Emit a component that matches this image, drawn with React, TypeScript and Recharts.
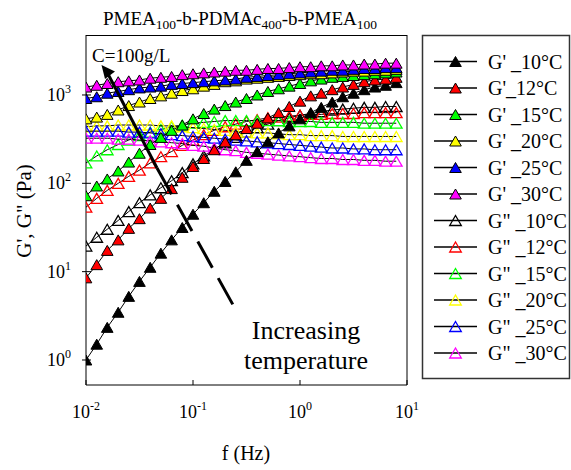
import React from "react";
import { ScatterChart, Scatter, XAxis, YAxis } from "recharts";

// Frequencies (Hz)
const FREQ = [0.01, 0.0126, 0.0158, 0.02, 0.0251, 0.0316, 0.0398, 0.0501, 0.0631, 0.0794, 0.1, 0.126, 0.158, 0.2, 0.251, 0.316, 0.398, 0.501, 0.631, 0.794, 1, 1.26, 1.58, 2, 2.51, 3.16, 3.98, 5.01, 6.31, 7.94];

// G' (Pa)
const GP_10 = [1.0, 1.51, 2.34, 3.47, 5.25, 7.76, 11.2, 16.2, 22.9, 31.6, 44.7, 60.3, 81.3, 105, 135, 182, 229, 295, 372, 447, 537, 631, 724, 832, 955, 1047, 1148, 1230, 1288, 1380];
const GP_12 = [8.51, 12.0, 17.4, 22.9, 30.9, 39.8, 52.5, 67.6, 87.1, 117, 155, 191, 240, 295, 355, 417, 479, 550, 631, 741, 851, 977, 1047, 1148, 1230, 1318, 1413, 1479, 1514, 1585];
const GP_15 = [72.4, 93.3, 112, 138, 174, 219, 275, 331, 398, 457, 537, 617, 692, 759, 832, 912, 1000, 1096, 1175, 1259, 1349, 1445, 1514, 1585, 1622, 1660, 1698, 1738, 1778, 1820];
const GP_20 = [537, 562, 603, 676, 759, 832, 912, 977, 1047, 1122, 1175, 1259, 1318, 1413, 1445, 1514, 1549, 1585, 1622, 1660, 1698, 1738, 1738, 1778, 1820, 1862, 1862, 1905, 1905, 1950];
const GP_25 = [912, 955, 1047, 1096, 1148, 1202, 1230, 1259, 1318, 1349, 1380, 1413, 1445, 1479, 1514, 1585, 1622, 1660, 1698, 1738, 1778, 1820, 1862, 1905, 1905, 1950, 1995, 1995, 2042, 2042];
const GP_30 = [1230, 1288, 1349, 1413, 1445, 1479, 1549, 1585, 1622, 1698, 1738, 1778, 1820, 1862, 1905, 1905, 1950, 1995, 1995, 2042, 2089, 2089, 2138, 2138, 2188, 2188, 2239, 2239, 2291, 2291];

// G'' (Pa)
const GPP_10 = [19.5, 24.5, 30.2, 38.0, 47.9, 60.3, 74.1, 89.1, 107, 132, 166, 204, 245, 288, 331, 380, 427, 468, 513, 550, 589, 617, 646, 676, 692, 708, 724, 724, 741, 741];
const GPP_12 = [53.7, 67.6, 83.2, 100, 120, 141, 170, 200, 229, 269, 309, 355, 398, 437, 468, 501, 525, 550, 562, 575, 589, 603, 603, 617, 617, 617, 631, 631, 631, 631];
const GPP_15 = [170, 204, 240, 275, 309, 347, 380, 407, 437, 457, 479, 490, 501, 513, 513, 513, 513, 513, 513, 501, 501, 501, 490, 490, 490, 490, 479, 479, 479, 479];
const GPP_20 = [437, 447, 447, 457, 457, 457, 457, 447, 447, 437, 427, 417, 407, 398, 389, 380, 372, 372, 363, 355, 355, 347, 347, 347, 339, 339, 339, 339, 339, 339];
const GPP_25 = [389, 389, 389, 389, 380, 380, 372, 363, 355, 347, 339, 331, 324, 316, 309, 302, 295, 288, 282, 275, 269, 263, 257, 251, 251, 245, 245, 240, 240, 240];
const GPP_30 = [324, 324, 324, 316, 316, 309, 302, 295, 288, 282, 269, 263, 251, 240, 234, 224, 219, 214, 209, 204, 200, 195, 191, 191, 186, 186, 182, 182, 178, 178];

const X_TICKS = [0.01, 0.1, 1, 10];
const Y_TICKS = [1, 10, 100, 1000];
const X_EXP = ["-2", "-1", "0", "1"];
const Y_EXP = ["0", "1", "2", "3"];

const SERIES = [
  { name: "G\" _10°C", values: GPP_10, color: "#000000", filled: false },
  { name: "G\" _12°C", values: GPP_12, color: "#FF0000", filled: false },
  { name: "G\" _15°C", values: GPP_15, color: "#00FF00", filled: false },
  { name: "G\" _20°C", values: GPP_20, color: "#FFFF00", filled: false },
  { name: "G\" _25°C", values: GPP_25, color: "#0000FF", filled: false },
  { name: "G\" _30°C", values: GPP_30, color: "#FF00FF", filled: false },
  { name: "G' _10°C", values: GP_10, color: "#000000", filled: true },
  { name: "G'_12°C", values: GP_12, color: "#FF0000", filled: true },
  { name: "G' _15°C", values: GP_15, color: "#00FF00", filled: true },
  { name: "G' _20°C", values: GP_20, color: "#FFFF00", filled: true },
  { name: "G' _25°C", values: GP_25, color: "#0000FF", filled: true },
  { name: "G' _30°C", values: GP_30, color: "#FF00FF", filled: true },
];
const LEGEND_ORDER = [6, 7, 8, 9, 10, 11, 0, 1, 2, 3, 4, 5];

const FONT = "'Liberation Serif', 'Times New Roman', serif";

function triPoints(cx: number, cy: number) {
  return `${cx},${cy - 5} ${cx - 5.8},${cy + 5} ${cx + 5.8},${cy + 5}`;
}

function Tri(props: any) {
  const { cx, cy, color, filled } = props;
  if (cx == null || cy == null) return null;
  return filled ? (
    <polygon points={triPoints(cx, cy)} fill={color} stroke="#000" strokeWidth={1} />
  ) : (
    <polygon points={triPoints(cx, cy)} fill="none" stroke={color} strokeWidth={1.3} />
  );
}

function XTick(props: any) {
  const { x, y, payload, index } = props;
  const i = X_TICKS.indexOf(payload.value);
  const exp = X_EXP[i >= 0 ? i : index];
  return (
    <g>
      <line x1={x} x2={x} y1={y} y2={y - 5} stroke="#000" strokeWidth={1} />
      <text x={x} y={y + 33} textAnchor="middle" fontFamily={FONT} fontSize={18} fill="#000">
        10<tspan dy={-8} fontSize={12}>{exp}</tspan>
      </text>
    </g>
  );
}

function YTick(props: any) {
  const { x, y, payload, index } = props;
  const i = Y_TICKS.indexOf(payload.value);
  const exp = Y_EXP[i >= 0 ? i : index];
  return (
    <g>
      <line x1={x - 4} x2={x + 5} y1={y} y2={y} stroke="#000" strokeWidth={1} />
      <text x={x - 15} y={y + 6} textAnchor="end" fontFamily={FONT} fontSize={18} fill="#000">
        10<tspan dy={-8} fontSize={12}>{exp}</tspan>
      </text>
    </g>
  );
}

export default function App() {
  const rowY = (i: number) => 61.5 + 26.5 * i;
  return (
    <div style={{ position: "absolute", left: 0, top: 0, width: 571, height: 470, background: "#fff" }}>
      <ScatterChart width={571} height={470} margin={{ top: 35, right: 164, bottom: 0, left: 0 }}>
        <XAxis
          type="number"
          dataKey="f"
          scale="log"
          domain={[0.01, 10]}
          allowDataOverflow
          ticks={X_TICKS}
          interval={0}
          height={85}
          tickSize={0}
          tickMargin={0}
          tickLine={false}
          axisLine={{ stroke: "#000", strokeWidth: 1 }}
          tick={<XTick />}
        />
        <YAxis
          type="number"
          dataKey="v"
          scale="log"
          domain={[0.521, 4775]}
          allowDataOverflow
          ticks={Y_TICKS}
          interval={0}
          width={86}
          tickSize={0}
          tickMargin={0}
          tickLine={false}
          axisLine={{ stroke: "#000", strokeWidth: 1 }}
          tick={<YTick />}
        />
        {SERIES.map((s) => (
          <Scatter
            key={s.name}
            name={s.name}
            data={FREQ.map((f, i) => ({ f, v: s.values[i] }))}
            line={{ stroke: "#000", strokeWidth: 1 }}
            lineType="joint"
            isAnimationActive={false}
            shape={(p: any) => <Tri cx={p.cx} cy={p.cy} color={s.color} filled={s.filled} />}
          />
        ))}
      </ScatterChart>
      <svg width={571} height={470} style={{ position: "absolute", left: 0, top: 0, pointerEvents: "none" }}>
        {/* frame top and right */}
        <line x1={86} x2={407} y1={35.5} y2={35.5} stroke="#000" strokeWidth={1} />
        <line x1={407} x2={407} y1={35} y2={385} stroke="#000" strokeWidth={1} />
        {/* title */}
        <text x={240} y={25} textAnchor="middle" fontFamily={FONT} fontSize={19} fill="#000">
          PMEA<tspan fontSize={13.5} dy={4}>100</tspan>
          <tspan dy={-4}>-b-PDMAc</tspan>
          <tspan fontSize={13.5} dy={4}>400</tspan>
          <tspan dy={-4}>-b-PMEA</tspan>
          <tspan fontSize={13.5} dy={4}>100</tspan>
        </text>
        {/* axis titles */}
        <text x={246} y={460} textAnchor="middle" fontFamily={FONT} fontSize={20} fill="#000">f (Hz)</text>
        <text
          x={0}
          y={0}
          transform="translate(31,211) rotate(-90)"
          textAnchor="middle"
          fontFamily={FONT}
          fontSize={21}
          fill="#000"
        >
          G', G" (Pa)
        </text>
        {/* annotation */}
        <text x={92} y={62} fontFamily={FONT} fontSize={19} fill="#000">C=100g/L</text>
        <polygon points="101.5,65 115,71.5 105,79" fill="#000" />
        <line x1={108} y1={74} x2={157} y2={168} stroke="#000" strokeWidth={3} />
        <line x1={157} y1={168} x2={237} y2={312} stroke="#000" strokeWidth={3} strokeDasharray="30 12" />
        <text x={306} y={339} textAnchor="middle" fontFamily={FONT} fontSize={26} fill="#000">Increasing</text>
        <text x={306} y={369} textAnchor="middle" fontFamily={FONT} fontSize={26} fill="#000">temperature</text>
        {/* legend */}
        <rect x={422.5} y={35.5} width={147} height={343} fill="none" stroke="#333" strokeWidth={1.5} />
        {LEGEND_ORDER.map((si, i) => {
          const s = SERIES[si];
          const y = rowY(i);
          return (
            <g key={s.name}>
              <line x1={434} x2={477} y1={y} y2={y} stroke="#000" strokeWidth={1.3} />
              <Tri cx={455.5} cy={y} color={s.color} filled={s.filled} />
              <text x={488} y={y + 7} fontFamily={FONT} fontSize={20} fill="#000">{s.name}</text>
            </g>
          );
        })}
      </svg>
    </div>
  );
}
